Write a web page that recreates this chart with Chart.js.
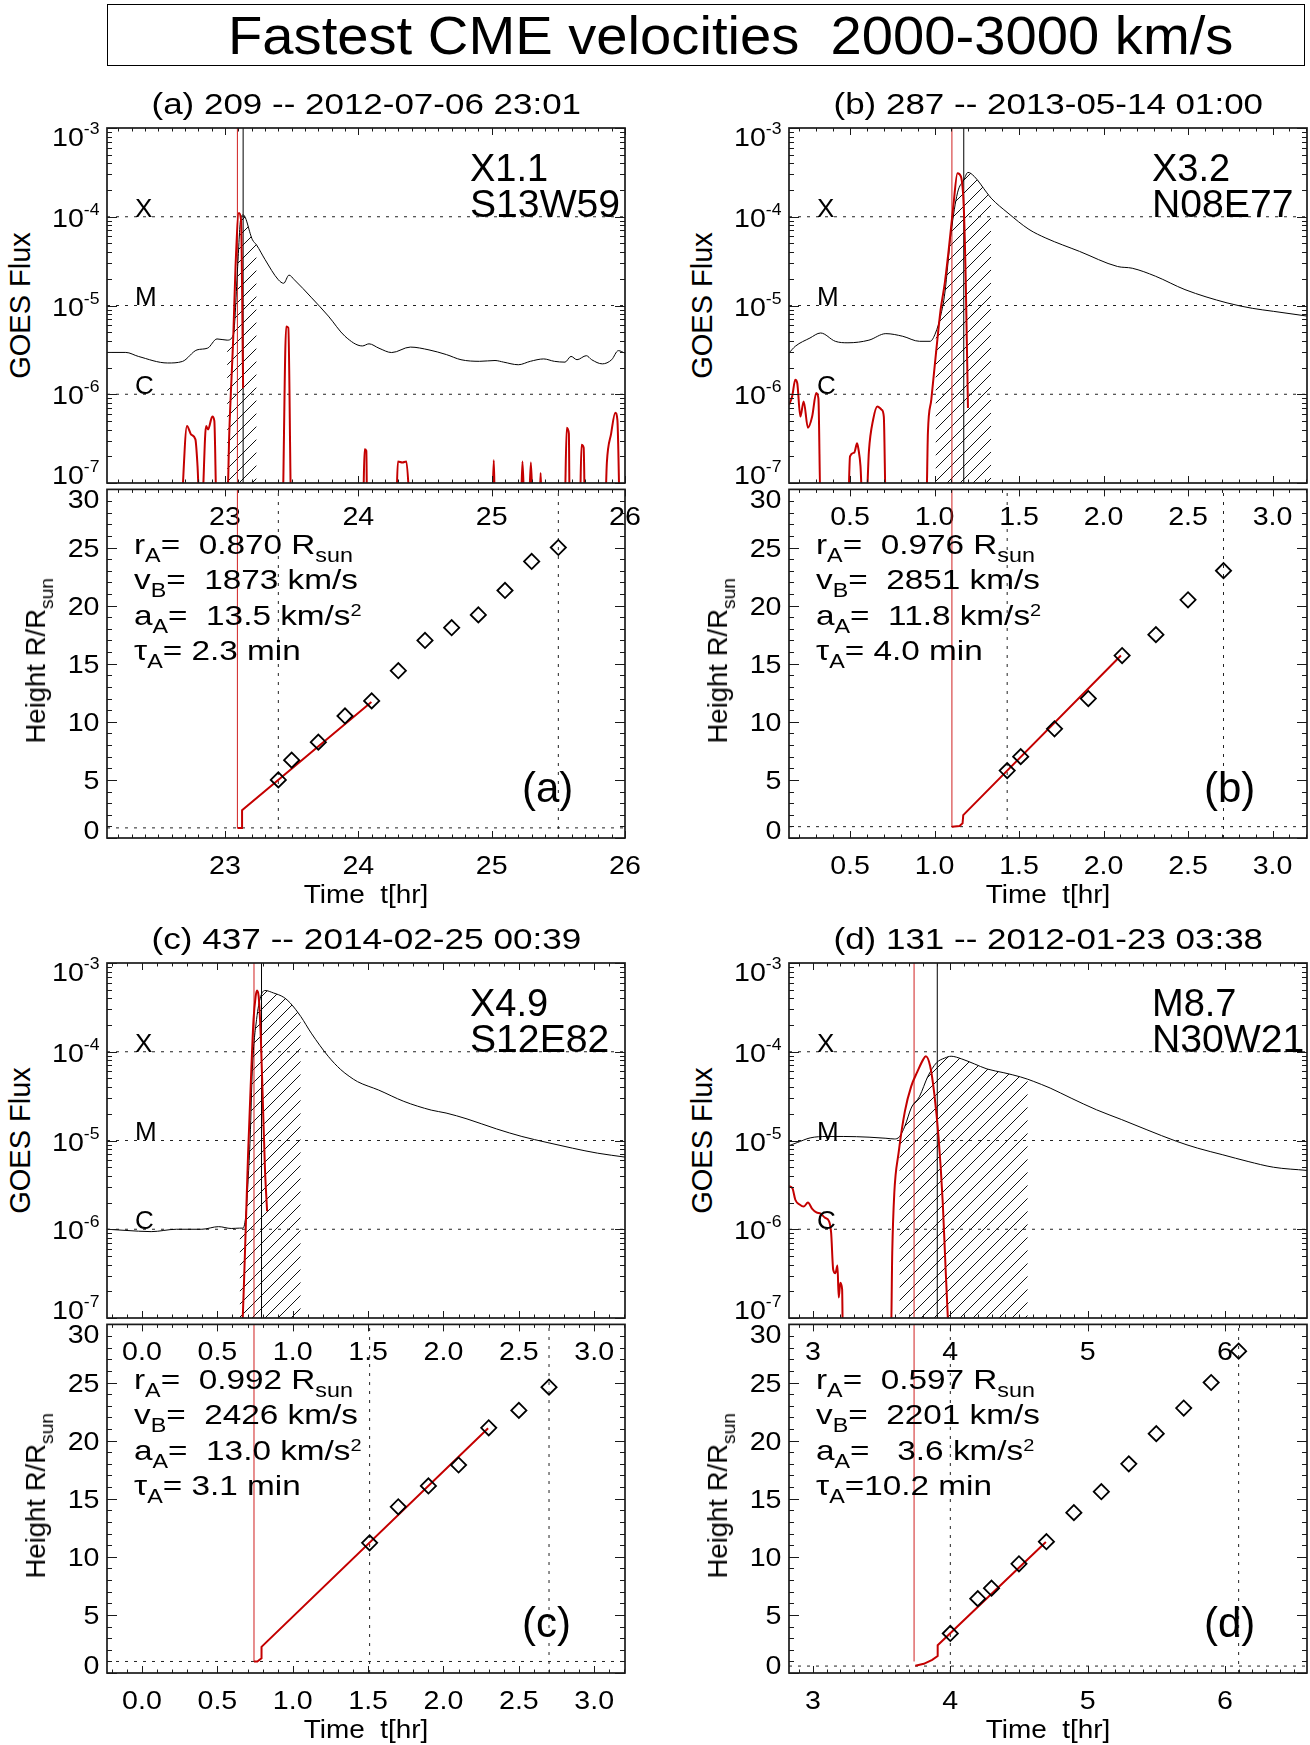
<!DOCTYPE html>
<html>
<head>
<meta charset="utf-8">
<title>Fastest CME velocities 2000-3000 km/s</title>
<script src="https://cdn.jsdelivr.net/npm/chart.js@4.4.1/dist/chart.umd.min.js"></script>
<style>
  html, body { margin: 0; padding: 0; background: #fff; }
  #page { position: relative; width: 1310px; height: 1745px; overflow: hidden;
          font-family: "Liberation Sans", Arial, Helvetica, sans-serif; color: #000; }
  #page canvas { position: absolute; }
  .txt { position: absolute; white-space: pre; line-height: 1; }
  .sb { font-size: 0.7em; position: relative; top: 0.39em; line-height: 0; }
  .sp { font-size: 0.6em; position: relative; top: -0.55em; line-height: 0; }
  #titlebox { position: absolute; left: 107px; top: 4px; width: 1198px; height: 62px;
              border: 1.5px solid #000; box-sizing: border-box; }
</style>
</head>
<body>
<div id="page"><div id="titlebox"></div></div>
<script>
// ---------- data ----------
// time axis in hours of the day, GOES flux in W/m^2, heights in R/Rsun

// panel (a)
const goesTimeA = [22.115, 22.256, 22.35, 22.57, 22.68, 22.79, 22.87, 22.94,
  23.016, 23.063, 23.095, 23.117, 23.136, 23.206, 23.237, 23.30,
  23.40, 23.44, 23.48, 23.52, 23.65, 23.775, 23.90, 24.03,
  24.08, 24.155, 24.25, 24.39, 24.53, 24.66, 24.77, 24.91,
  25.025, 25.09, 25.20, 25.29, 25.39, 25.47, 25.55, 25.595,
  25.64, 25.71, 25.75, 25.83, 25.90, 25.95, 26.0];
const goesFluxA = [2.96e-6, 2.96e-6, 2.67e-6, 2.25e-6, 2.34e-6, 3.16e-6, 3.31e-6, 4.2e-6,
  4.07e-6, 4.68e-6, 2.75e-5, 9.3e-5, 1.05e-4, 5.5e-5, 4.8e-5, 3.3e-5,
  1.95e-5, 1.78e-5, 2.2e-5, 1.95e-5, 1.22e-5, 7.6e-6, 4.5e-6, 3.5e-6,
  3.7e-6, 3.3e-6, 2.95e-6, 3.4e-6, 3.16e-6, 2.8e-6, 2.45e-6, 2.35e-6,
  2.4e-6, 2.3e-6, 2.15e-6, 2.35e-6, 2.5e-6, 2.35e-6, 2.3e-6, 2.67e-6,
  2.45e-6, 2.72e-6, 2.45e-6, 2.2e-6, 2.45e-6, 3.1e-6, 2.9e-6];
const derivTimeA = [22.674, 22.715, 22.747, 22.778, 22.794, 22.81,
  22.826, 22.858, 22.873, 22.905, 22.92, 22.937,
  23.016, 23.032, 23.063, 23.079, 23.104, 23.12, 23.136, 23.2,
  23.434, 23.459, 23.475, 23.497,
  24.035, 24.047, 24.06, 24.066,
  24.282, 24.297, 24.33, 24.36, 24.392,
  25.003, 25.016, 25.025,
  25.218, 25.231, 25.247, 25.278, 25.294, 25.31, 25.358, 25.367, 25.377,
  25.547, 25.563, 25.579, 25.585,
  25.661, 25.674, 25.69, 25.70,
  25.85, 25.864, 25.896, 25.927, 25.943, 25.959];
const derivFluxA = [5e-8, 4.4e-7, 3.5e-7, 3.1e-7, 1.55e-7, 5e-8,
  5e-8, 4.4e-7, 4.0e-7, 5.6e-7, 5.0e-7, 5e-8,
  5e-8, 3.6e-7, 4.9e-6, 2.75e-5, 1.1e-4, 9.3e-5, 1.17e-6, null,
  5e-8, 5.8e-6, 5.6e-6, 5e-8,
  5e-8, 2.4e-7, 2.3e-7, 5e-8,
  5e-8, 1.75e-7, 1.7e-7, 1.75e-7, 5e-8,
  5e-8, 1.8e-7, 5e-8,
  5e-8, 1.75e-7, 5e-8, 5e-8, 1.7e-7, 5e-8, 5e-8, 1.3e-7, 5e-8,
  5e-8, 4.2e-7, 3.6e-7, 5e-8,
  5e-8, 2.7e-7, 2.5e-7, 5e-8,
  5e-8, 1.7e-7, 3.6e-7, 6.2e-7, 5.1e-7, 5e-8];
const hatchA = [23.016, 23.237];
const markA = [23.093, 23.136];          // red: onset, black: flare peak
const htTimeA = [23.4, 23.5, 23.7, 23.9, 24.1, 24.3, 24.5, 24.7, 24.9, 25.1, 25.3, 25.5];
const htHeightA = [5.0, 6.7, 8.25, 10.5, 11.8, 14.4, 17.0, 18.1, 19.2, 21.3, 23.8, 25.0];
const fitTimeA = [23.093, 23.128, 23.128, 24.098];
const fitHeightA = [0.87, 0.87, 2.39, 11.7];

// panel (b)
const goesTimeB = [0.139, 0.176, 0.263, 0.326, 0.413, 0.488, 0.612, 0.712,
  0.812, 0.911, 0.974, 1.006, 1.036, 1.061, 1.098, 1.136,
  1.173, 1.198, 1.235, 1.31, 1.335, 1.435, 1.559, 1.659,
  1.858, 2.083, 2.17, 2.307, 2.482, 2.731, 2.88, 3.005, 3.204];
const goesFluxB = [2.92e-6, 3.47e-6, 4.3e-6, 4.9e-6, 3.95e-6, 3.8e-6, 4.07e-6, 4.82e-6,
  4.5e-6, 3.95e-6, 3.95e-6, 4.9e-6, 7.6e-6, 1.38e-5, 6.6e-5, 1.86e-4,
  2.6e-4, 3.16e-4, 2.85e-4, 1.86e-4, 1.62e-4, 1.1e-4, 7.2e-5, 5.75e-5,
  4.07e-5, 2.75e-5, 2.63e-5, 2.14e-5, 1.51e-5, 1.07e-5, 9.3e-6, 8.6e-6, 7.6e-6];
const derivTimeB = [0.139, 0.158, 0.176, 0.188, 0.206, 0.226, 0.251, 0.276, 0.3, 0.313, 0.326,
  0.488, 0.5, 0.525, 0.542, 0.55, 0.562, 0.575,
  0.595, 0.612, 0.637, 0.662, 0.687, 0.7, 0.712,
  0.951, 0.961, 0.981, 1.011, 1.036, 1.061, 1.086, 1.111, 1.136, 1.156, 1.173, 1.185, 1.198];
const derivFluxB = [7.6e-7, 9.5e-7, 1.46e-6, 1.33e-6, 5.6e-7, 8.3e-7, 4.2e-7, 5.6e-7, 1.03e-6, 9.0e-7, 5e-8,
  5e-8, 2.0e-7, 2.2e-7, 2.8e-7, 2.4e-7, 1.55e-7, 5e-8,
  5e-8, 2.3e-7, 5.2e-7, 7.3e-7, 6.7e-7, 5.6e-7, 5e-8,
  5e-8, 3.7e-7, 8.7e-7, 3.2e-6, 8.9e-6, 1.8e-5, 4.6e-5, 1.3e-4, 3.1e-4, 2.85e-4, 1.3e-4, 1.8e-5, 7.0e-7];
const hatchB = [1.006, 1.335];
const markB = [1.103, 1.173];
const htTimeB = [1.43, 1.51, 1.71, 1.91, 2.11, 2.31, 2.50, 2.71];
const htHeightB = [5.8, 7.0, 9.4, 12.0, 15.7, 17.5, 20.5, 23.0];
const fitTimeB = [1.103, 1.148, 1.166, 1.17, 2.103];
const fitHeightB = [0.976, 1.04, 1.27, 1.97, 15.7];

// panel (c)
const goesTimeC = [-0.232, -0.106, 0.061, 0.229, 0.397, 0.508, 0.592, 0.648,
  0.670, 0.690, 0.704, 0.718, 0.732, 0.760, 0.788, 0.816,
  0.872, 0.941, 0.983, 1.053, 1.123, 1.235, 1.318, 1.374,
  1.43, 1.57, 1.737, 1.919, 2.017, 2.156, 2.352, 2.52,
  2.687, 2.855, 3.022, 3.204];
const goesFluxC = [1.0e-6, 9.7e-7, 9.4e-7, 1.0e-6, 1.0e-6, 1.07e-6, 1.02e-6, 1.03e-6,
  1.03e-6, 1.5e-6, 3.6e-6, 1.1e-5, 6.3e-5, 2.3e-4, 4.2e-4, 4.9e-4,
  4.6e-4, 4.1e-4, 3.55e-4, 2.5e-4, 1.62e-4, 8.9e-5, 6.3e-5, 5.3e-5,
  4.6e-5, 3.7e-5, 2.76e-5, 2.2e-5, 2.04e-5, 1.75e-5, 1.35e-5, 1.11e-5,
  9.5e-6, 8.2e-6, 7.2e-6, 6.5e-6];
const derivTimeC = [0.662, 0.676, 0.690, 0.704, 0.721, 0.740, 0.754, 0.763, 0.774, 0.788, 0.802, 0.816, 0.830];
const derivFluxC = [5e-8, 2.3e-7, 1.28e-6, 7.2e-6, 4.07e-5, 2.3e-4, 4.2e-4, 4.9e-4, 4.2e-4, 1.5e-4, 2.65e-5, 4.7e-6, 1.6e-6];
const hatchC = [0.648, 1.053];
const markC = [0.743, 0.793];
const htTimeC = [1.51, 1.70, 1.90, 2.10, 2.30, 2.50, 2.70];
const htHeightC = [11.2, 14.3, 16.1, 17.9, 21.1, 22.6, 24.6];
const fitTimeC = [0.743, 0.765, 0.793, 0.793, 2.296];
const fitHeightC = [0.992, 0.992, 1.27, 2.25, 21.07];

// panel (d)
const goesTimeD = [2.825, 2.887, 2.979, 3.101, 3.224, 3.408, 3.531, 3.592,
  3.629, 3.669, 3.715, 3.776, 3.837, 3.899, 3.96, 4.006,
  4.083, 4.175, 4.267, 4.39, 4.512, 4.564, 4.604, 4.727,
  4.88, 5.064, 5.248, 5.432, 5.647, 5.801, 5.985, 6.169, 6.353, 6.598];
const goesFluxD = [8.75e-6, 9.5e-6, 1.07e-5, 1.11e-5, 1.11e-5, 1.09e-5, 1.06e-5, 1.04e-5,
  1.1e-5, 1.45e-5, 2.32e-5, 3.15e-5, 5.3e-5, 7.5e-5, 8.5e-5, 8.9e-5,
  8.3e-5, 7.3e-5, 6.4e-5, 5.8e-5, 5.2e-5, 4.9e-5, 4.65e-5, 3.9e-5,
  3.0e-5, 2.22e-5, 1.72e-5, 1.32e-5, 9.8e-6, 8.2e-6, 6.9e-6, 5.8e-6, 5.0e-6, 4.6e-6];
const derivTimeD = [2.825, 2.85, 2.871, 2.902, 2.933, 2.963, 2.994, 3.025, 3.055, 3.086,
  3.117, 3.132, 3.147, 3.163, 3.178, 3.187, 3.199, 3.212, 3.218,
  3.567, 3.577, 3.592, 3.623, 3.669, 3.715, 3.761, 3.801, 3.822, 3.853,
  3.883, 3.914, 3.945, 3.966, 3.991];
const derivFluxD = [3.05e-6, 2.9e-6, 2.15e-6, 1.9e-6, 1.8e-6, 2.0e-6, 1.7e-6, 1.55e-6, 1.5e-6, 1.35e-6,
  1.23e-6, 9.1e-7, 3.5e-7, 3.2e-7, 3.9e-7, 1.7e-7, 2.5e-7, 2.1e-7, 5e-8,
  5e-8, 5.4e-7, 2.56e-6, 7.2e-6, 2.13e-5, 4.07e-5, 6.0e-5, 8.1e-5, 8.9e-5, 6.9e-5,
  3.4e-5, 1.11e-5, 1.98e-6, 3.5e-7, 5e-8];
const hatchD = [3.629, 4.564];
const markD = [3.736, 3.905];
const htTimeD = [4.0, 4.2, 4.3, 4.5, 4.7, 4.9, 5.1, 5.3, 5.5, 5.7, 5.9, 6.1];
const htHeightD = [3.4, 6.4, 7.3, 9.4, 11.3, 13.8, 15.6, 18.0, 20.6, 22.8, 25.0, 27.7];
const fitTimeD = [3.745, 3.807, 3.868, 3.908, 3.908, 4.696];
const fitHeightD = [0.62, 0.79, 1.13, 1.46, 2.39, 11.27];

// shared axes
const goesLevels = [1e-4, 1e-5, 1e-6];
const goesClasses = ['X', 'M', 'C'];
const logExps = [-7, -6, -5, -4, -3];
const htTicks = [0, 5, 10, 15, 20, 25, 30];
const xTicksA = [23, 24, 25, 26];
const xTicksB = [0.5, 1.0, 1.5, 2.0, 2.5, 3.0];
const xTicksC = [0.0, 0.5, 1.0, 1.5, 2.0, 2.5, 3.0];
const xTicksD = [3, 4, 5, 6];

// ---------- drawing ----------
const RED = '#c40000';
const FONT = '"Liberation Sans", Arial, Helvetica, sans-serif';
const TSX = 1.1; // IDL tick font runs a little wider than Liberation Sans
const TFS = 26;  // tick label size
const page = document.getElementById('page');

function pts(xs, ys) {
    return xs.map((x, i) => ({ x: x, y: ys[i] }));
}

function addText(html, x, base, size, o) {
    o = o || {};
    const d = document.createElement('div');
    d.className = 'txt';
    d.innerHTML = html;
    d.style.fontSize = size + 'px';
    page.appendChild(d);
    const w = d.offsetWidth;
    if (o.rotate) {
        // x = baseline position after rotation, base = vertical centre
        const cx = x - 0.3465 * size;
        d.style.left = (cx - w / 2) + 'px';
        d.style.top = (base - size / 2) + 'px';
        d.style.transform = 'rotate(-90deg)';
        return d;
    }
    const sx = o.width ? o.width / w : (o.sx || 1);
    d.style.top = (base - 0.8465 * size) + 'px';
    d.style.left = (o.align === 'center' ? x - w / 2 : x) + 'px';
    d.style.transformOrigin = o.align === 'center' ? '50% 50%' : '0 50%';
    if (sx !== 1) d.style.transform = 'scaleX(' + sx.toFixed(4) + ')';
    return d;
}

function stretchText(ctx, s, x, y, sx, align) {
    const w = ctx.measureText(s).width * sx;
    const x0 = align === 'center' ? x - w / 2 : align === 'right' ? x - w : x;
    ctx.save();
    ctx.translate(x0, y);
    ctx.scale(sx, 1);
    ctx.textAlign = 'left';
    ctx.textBaseline = 'alphabetic';
    ctx.fillText(s, 0, 0);
    ctx.restore();
}

function newCanvas(left, top, w, h) {
    const c = document.createElement('canvas');
    c.width = w;
    c.height = h;
    c.style.left = left + 'px';
    c.style.top = top + 'px';
    page.appendChild(c);
    return c.getContext('2d');
}

function hatchPattern(ctx) {
    const s = 13;
    const c = document.createElement('canvas');
    c.width = s;
    c.height = s;
    const g = c.getContext('2d');
    g.strokeStyle = '#111';
    g.lineWidth = 1;
    g.beginPath();
    g.moveTo(0, s); g.lineTo(s, 0);
    g.moveTo(-1, 1); g.lineTo(1, -1);
    g.moveTo(s - 1, s + 1); g.lineTo(s + 1, s - 1);
    g.stroke();
    return ctx.createPattern(c, 'repeat');
}

function xLabels(chart, base, p) {
    const ctx = chart.ctx, sx = chart.scales.x;
    ctx.font = TFS + 'px ' + FONT;
    ctx.fillStyle = '#000';
    p.xTicks.forEach(v => stretchText(ctx, v.toFixed(p.xDec), sx.getPixelForValue(v), base, TSX, 'center'));
}

// IDL style box: inward ticks on all four sides, labels left and below
function idlAxes(p, log, above, below) {
    return {
        id: 'idlAxes',
        beforeDatasetsDraw(chart) {
            if (above) xLabels(chart, chart.chartArea.top + 35.5, p);
        },
        afterDraw(chart) {
            const ctx = chart.ctx, a = chart.chartArea, sx = chart.scales.x, sy = chart.scales.y;
            ctx.save();
            ctx.strokeStyle = '#1a1a1a';
            ctx.lineWidth = 1;
            ctx.beginPath();
            const k0 = Math.ceil(sx.min * 10 - 1e-6), k1 = Math.floor(sx.max * 10 + 1e-6);
            for (let k = k0; k <= k1; k++) {
                const v = k / 10, r = v / p.xMajor;
                const px = Math.round(sx.getPixelForValue(v)) + 0.5;
                const len = Math.abs(r - Math.round(r)) < 1e-6 ? 7 : 3.5;
                ctx.moveTo(px, a.top); ctx.lineTo(px, a.top + len);
                ctx.moveTo(px, a.bottom); ctx.lineTo(px, a.bottom - len);
            }
            const yt = [];
            if (log) {
                logExps.forEach((e, i) => {
                    yt.push({ v: Math.pow(10, e), major: true });
                    if (i < logExps.length - 1)
                        for (let m = 2; m <= 9; m++) yt.push({ v: m * Math.pow(10, e), major: false });
                });
            } else {
                for (let v = 0; v <= 30; v++) yt.push({ v: v, major: v % 5 === 0 });
            }
            yt.forEach(t => {
                const py = Math.round(sy.getPixelForValue(t.v)) + 0.5;
                const len = t.major ? 10 : 5;
                ctx.moveTo(a.left, py); ctx.lineTo(a.left + len, py);
                ctx.moveTo(a.right, py); ctx.lineTo(a.right - len, py);
            });
            ctx.stroke();
            ctx.lineWidth = 1.7;
            ctx.strokeRect(a.left, a.top, a.right - a.left, a.bottom - a.top);

            ctx.fillStyle = '#000';
            const xr = a.left - 7.5;
            if (log) {
                logExps.forEach((e, i) => {
                    const py = sy.getPixelForValue(Math.pow(10, e));
                    const base = py + (i === logExps.length - 1 ? 18 : i === 0 ? 1 : 10);
                    ctx.font = '16px ' + FONT;
                    const we = ctx.measureText(String(e)).width * TSX;
                    stretchText(ctx, String(e), xr - we, base - 12, TSX, 'left');
                    ctx.font = TFS + 'px ' + FONT;
                    stretchText(ctx, '10', xr - we, base, TSX, 'right');
                });
            } else {
                ctx.font = TFS + 'px ' + FONT;
                htTicks.forEach(v => {
                    const py = sy.getPixelForValue(v);
                    const base = py + (v === 30 ? 18.5 : v === 0 ? 1 : 9.3);
                    stretchText(ctx, String(v), xr, base, TSX, 'right');
                });
            }
            if (below) xLabels(chart, a.bottom + 35.5, p);
            ctx.restore();
        }
    };
}

function baseOptions(pad, xr, yScale) {
    return {
        responsive: false,
        animation: false,
        devicePixelRatio: 1,
        events: [],
        layout: { padding: pad },
        plugins: { legend: { display: false }, tooltip: { enabled: false } },
        elements: { point: { radius: 0 }, line: { tension: 0 } },
        scales: {
            x: { type: 'linear', min: xr[0], max: xr[1], display: false },
            y: yScale
        }
    };
}

const line = (data, color, width, extra) => Object.assign(
    { data: data, borderColor: color, borderWidth: width, pointRadius: 0, fill: false, clip: 0 }, extra || {});

function panel(p, L, R, T, M, B) {
    const PL = 62, PR = 24, PT = 10;

    // ---- GOES flux plot ----
    const c1 = newCanvas(L - PL, T - PT, R - L + PL + PR, M - T + PT + 3);
    const goes = pts(p.goesT, p.goesF);
    const hatch = goes.filter(q => q.x >= p.hatch[0] && q.x <= p.hatch[1]);
    const smooth = { cubicInterpolationMode: 'monotone' };
    const ds1 = [
        Object.assign({ data: hatch, borderWidth: 0, borderColor: 'rgba(0,0,0,0)', backgroundColor: hatchPattern(c1),
          fill: 'start', pointRadius: 0, order: 9, clip: 0 }, smooth)
    ];
    goesLevels.forEach(lev => ds1.push(line([{ x: p.xr[0], y: lev }, { x: p.xr[1], y: lev }], '#222', 1,
        { borderDash: [3, 6], order: 8 })));
    ds1.push(line([{ x: p.mark[1], y: 1e-7 }, { x: p.mark[1], y: 1e-3 }], '#000', 1, { order: 7 }));
    ds1.push(line([{ x: p.mark[0], y: 1e-7 }, { x: p.mark[0], y: 1e-3 }], '#d02020', 1, { order: 6 }));
    ds1.push(line(goes, '#000', 1, Object.assign({ order: 5 }, smooth)));
    ds1.push(line(pts(p.derivT, p.derivF), RED, 2, Object.assign({ order: 4 }, smooth)));

    const ch1 = new Chart(c1, {
        type: 'line',
        data: { datasets: ds1 },
        options: baseOptions({ left: PL, right: PR, top: PT, bottom: 3 }, p.xr,
            { type: 'logarithmic', min: 1e-7, max: 1e-3, display: false }),
        plugins: [idlAxes(p, true, false, false)]
    });

    // ---- height-time plot ----
    const c2 = newCanvas(L - PL, M - 3, R - L + PL + PR, B - M + 3 + 50);
    const first = p.htT[0], last = p.htT[p.htT.length - 1];
    const ds2 = [
        line([{ x: p.xr[0], y: p.rA }, { x: p.xr[1], y: p.rA }], '#222', 1, { borderDash: [3, 6], order: 9 }),
        line([{ x: first, y: 0 }, { x: first, y: 30 }], '#222', 1, { borderDash: [3, 6], order: 8 }),
        line([{ x: last, y: 0 }, { x: last, y: 30 }], '#222', 1, { borderDash: [3, 6], order: 8 }),
        line([{ x: p.mark[0], y: p.markFrom }, { x: p.mark[0], y: 30 }], '#d02020', 1, { order: 7 }),
        line(pts(p.fitT, p.fitH), RED, 2, { order: 6 }),
        { data: pts(p.htT, p.htH), showLine: false, pointStyle: 'rectRot', pointRadius: 7.6,
          pointBorderWidth: 1.8, pointBorderColor: '#000', pointBackgroundColor: 'rgba(0,0,0,0)',
          borderColor: '#000', order: 5 }
    ];
    new Chart(c2, {
        type: 'line',
        data: { datasets: ds2 },
        options: baseOptions({ left: PL, right: PR, top: 3, bottom: 50 }, p.xr,
            { type: 'linear', min: 0, max: 30, display: false }),
        plugins: [idlAxes(p, false, true, true)]
    });

    // ---- text ----
    const cx = (L + R) / 2;
    addText(p.title, cx, T - 13.5, 30, { align: 'center', width: 430 });
    addText(p.cls[0], L + 363, T + 53.4, 38);
    addText(p.cls[1], L + 363, T + 89, 38, { sx: 1.03 });
    goesLevels.forEach((lev, i) => {
        const y = T - PT + ch1.scales.y.getPixelForValue(lev);
        addText(goesClasses[i], L + 28, y, 26);
    });
    const ann = [
        'r<span class="sb">A</span>=  ' + p.ann[0] + ' R<span class="sb">sun</span>',
        'v<span class="sb">B</span>=  ' + p.ann[1] + ' km/s',
        'a<span class="sb">A</span>= ' + p.ann[2] + ' km/s<span class="sp">2</span>',
        '\u03c4<span class="sb">A</span>=' + p.ann[3] + ' min'
    ];
    ann.forEach((s, i) => addText(s, L + 26.5, M + 71.7 + 35.5 * i, 28, { sx: 1.19 }));
    addText(p.letter, L + 415, B - 35, 42);
    addText('Time  t[hr]', cx, B + 65, 26, { align: 'center', width: 124.6 });
    addText('GOES Flux', L - 76, (T + M) / 2, 29, { rotate: true });
    addText('Height R/R<span class="sb">sun</span>', L - 61, (M + B) / 2, 27.5, { rotate: true });
}

addText('Fastest CME velocities  2000-3000 km/s', 228, 53.3, 54, { width: 1005 });

panel({ title: '(a) 209 -- 2012-07-06 23:01', letter: '(a)', cls: ['X1.1', 'S13W59'],
        ann: ['0.870', '1873', ' 13.5', ' 2.3'],
        xr: [22.115, 26.0], xTicks: xTicksA, xDec: 0, xMajor: 1,
        goesT: goesTimeA, goesF: goesFluxA, derivT: derivTimeA, derivF: derivFluxA,
        hatch: hatchA, mark: markA, markFrom: 0.87, rA: 0.870,
        htT: htTimeA, htH: htHeightA, fitT: fitTimeA, fitH: fitHeightA },
      107, 625, 128, 483, 838);

panel({ title: '(b) 287 -- 2013-05-14 01:00', letter: '(b)', cls: ['X3.2', 'N08E77'],
        ann: ['0.976', '2851', ' 11.8', ' 4.0'],
        xr: [0.139, 3.204], xTicks: xTicksB, xDec: 1, xMajor: 0.5,
        goesT: goesTimeB, goesF: goesFluxB, derivT: derivTimeB, derivF: derivFluxB,
        hatch: hatchB, mark: markB, markFrom: 0.93, rA: 0.976,
        htT: htTimeB, htH: htHeightB, fitT: fitTimeB, fitH: fitHeightB },
      789, 1307, 128, 483, 838);

panel({ title: '(c) 437 -- 2014-02-25 00:39', letter: '(c)', cls: ['X4.9', 'S12E82'],
        ann: ['0.992', '2426', ' 13.0', ' 3.1'],
        xr: [-0.232, 3.204], xTicks: xTicksC, xDec: 1, xMajor: 0.5,
        goesT: goesTimeC, goesF: goesFluxC, derivT: derivTimeC, derivF: derivFluxC,
        hatch: hatchC, mark: markC, markFrom: 0.99, rA: 0.992,
        htT: htTimeC, htH: htHeightC, fitT: fitTimeC, fitH: fitHeightC },
      107, 625, 963, 1318, 1673);

panel({ title: '(d) 131 -- 2012-01-23 03:38', letter: '(d)', cls: ['M8.7', 'N30W21'],
        ann: ['0.597', '2201', '  3.6', '10.2'],
        xr: [2.825, 6.598], xTicks: xTicksD, xDec: 0, xMajor: 1,
        goesT: goesTimeD, goesF: goesFluxD, derivT: derivTimeD, derivF: derivFluxD,
        hatch: hatchD, mark: markD, markFrom: 0.99, rA: 0.597,
        htT: htTimeD, htH: htHeightD, fitT: fitTimeD, fitH: fitHeightD },
      789, 1307, 963, 1318, 1673);
</script>
</body>
</html>
